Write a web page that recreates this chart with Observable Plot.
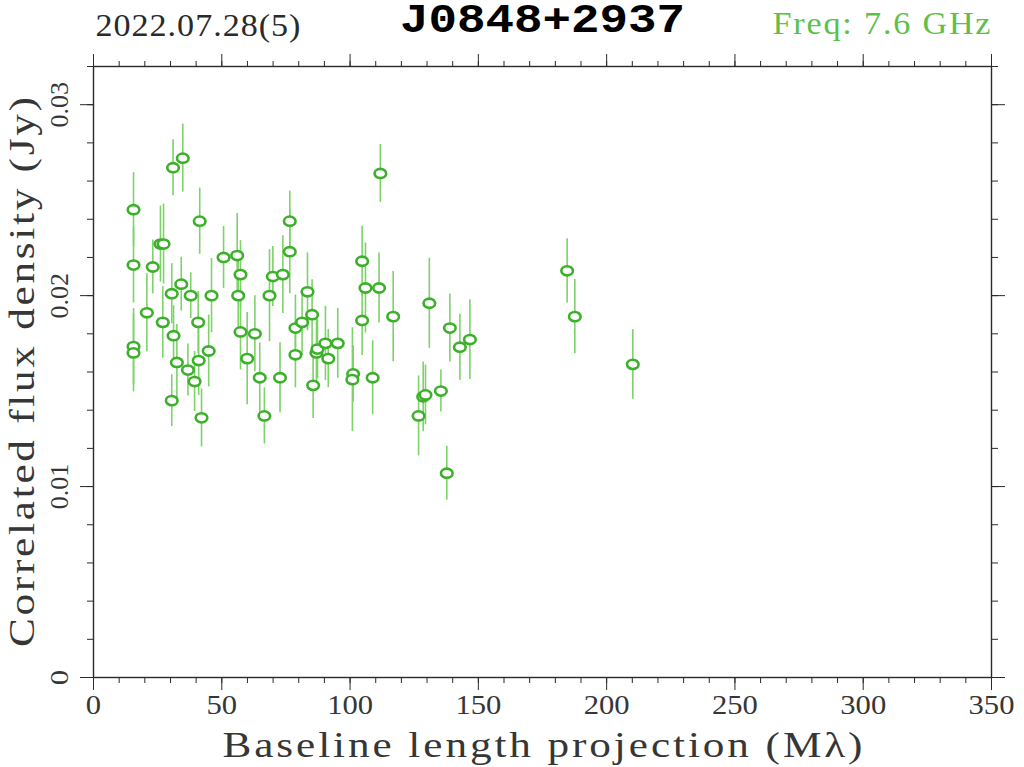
<!DOCTYPE html>
<html>
<head>
<meta charset="utf-8">
<script src="https://cdn.jsdelivr.net/npm/d3@7"></script>
<script src="https://cdn.jsdelivr.net/npm/@observablehq/plot@0.6"></script>
<style>
  html, body { margin: 0; padding: 0; background: #fff; }
  #chart { width: 1024px; height: 767px; }
</style>
</head>
<body>
<div id="chart"></div>
<script>
// Data
const baseline = [15.6, 15.6, 15.6, 15.6, 20.8, 23.1, 26.1, 27.3, 27.0, 31.0, 34.8, 30.5, 34.2, 31.2, 37.9, 41.4, 46.0, 32.5, 36.8, 39.4,
  40.8, 41.0, 44.9, 30.5, 42.1, 50.7, 56.0, 57.3, 56.4, 57.3, 59.9, 62.9, 64.8, 66.6, 68.6, 69.9, 73.8, 72.7, 76.5, 76.5,
  78.7, 78.7, 81.3, 83.4, 85.2, 85.6, 86.9, 87.3, 90.4, 91.5, 95.2, 101.2, 100.9, 104.7, 104.7, 106.0, 111.3, 111.8, 108.8, 116.8,
  126.7, 128.5, 129.4, 130.9, 135.4, 137.7, 138.9, 142.8, 146.7, 184.6, 187.6, 210.2];
const flux = [0.0245, 0.0216, 0.01733, 0.0170, 0.0191, 0.0215, 0.0227, 0.0227, 0.0186, 0.0267, 0.0272, 0.0201, 0.0206, 0.0179, 0.0200, 0.0239, 0.0200, 0.0165, 0.0161, 0.0155,
  0.0186, 0.0166, 0.0171, 0.0145, 0.0136, 0.0220, 0.0221, 0.0211, 0.0200, 0.0181, 0.0167, 0.0180, 0.0157, 0.0137, 0.0200, 0.0210, 0.0211, 0.0157, 0.0239, 0.0223,
  0.0169, 0.0183, 0.0186, 0.0202, 0.0190, 0.0153, 0.0170, 0.0172, 0.0175, 0.0167, 0.0175, 0.0159, 0.0156, 0.0218, 0.0187, 0.0204, 0.0204, 0.0264, 0.0157, 0.0189,
  0.0137, 0.0147, 0.0148, 0.0196, 0.0150, 0.0107, 0.0183, 0.0173, 0.0177, 0.0213, 0.0189, 0.0164];
const fluxErr = [0.00194, 0.00199, 0.00199, 0.00204, 0.00204, 0.00141, 0.00199, 0.00209, 0.00188, 0.00147, 0.00178, 0.00157, 0.00141, 0.00157, 0.0012, 0.00173, 0.00194, 0.00199, 0.00136, 0.00157,
  0.00162, 0.00183, 0.00188, 0.00136, 0.00152, 0.00162, 0.0022, 0.00178, 0.00188, 0.00199, 0.00241, 0.00199, 0.00183, 0.00147, 0.00241, 0.00157, 0.00204, 0.00183, 0.00157, 0.0022,
  0.00173, 0.00173, 0.00173, 0.00204, 0.00183, 0.00173, 0.00188, 0.00157, 0.00194, 0.00152, 0.00183, 0.00147, 0.00272, 0.00183, 0.00183, 0.00236, 0.00183, 0.00152, 0.00194, 0.00236,
  0.00209, 0.00183, 0.00157, 0.00236, 0.0011, 0.00141, 0.00178, 0.00173, 0.00209, 0.00168, 0.00194, 0.00183];

const xMajor = [0, 50, 100, 150, 200, 250, 300, 350];
const xMinor = d3.range(0, 36).map(i => i * 10);
const yMajor = [0, 0.01, 0.02, 0.03];
const yMajorLabels = ["0", "0.01", "0.02", "0.03"];
const yMinor = d3.range(0, 17).map(i => +(i * 0.002).toFixed(3));

const dateText = "2022.07.28(5)";
const sourceText = "J0848+2937";
const freqText = "Freq: 7.6 GHz";
const xLabel = "Baseline length projection (M\u03bb)";
const yLabel = "Correlated flux density (Jy)";

const data = baseline.map((b, i) => ({b, f: flux[i], e: fluxErr[i]}));

const k = 0.5523;
const ellipse = {
  draw(ctx) {
    const rx = 5.8, ry = 4.6;
    ctx.moveTo(rx, 0);
    ctx.bezierCurveTo(rx, ry * k, rx * k, ry, 0, ry);
    ctx.bezierCurveTo(-rx * k, ry, -rx, ry * k, -rx, 0);
    ctx.bezierCurveTo(-rx, -ry * k, -rx * k, -ry, 0, -ry);
    ctx.bezierCurveTo(rx * k, -ry, rx, -ry * k, rx, 0);
    ctx.closePath();
  }
};

const axisColor = "#2a2a2a";
const labelColor = "#363636";
const serif = "'Liberation Serif', serif";

const chart = Plot.plot({
  width: 1024,
  height: 767,
  marginLeft: 93,
  marginRight: 33,
  marginTop: 66,
  marginBottom: 90,
  style: {fontFamily: serif, fontSize: "27px", color: axisColor, background: "#fff"},
  x: {domain: [0, 350], label: null},
  y: {domain: [0, 0.032], label: null},
  marks: [
    Plot.ruleX(data, {x: "b", y1: d => d.f - d.e, y2: d => d.f + d.e, stroke: "#7dd26a", strokeWidth: 1.6}),
    Plot.dot(data, {x: "b", y: "f", symbol: ellipse, r: 5, stroke: "#3cb02a", strokeWidth: 2.6, fill: "#fff"}),
    Plot.frame({stroke: axisColor, strokeWidth: 1.4}),
    // bottom
    Plot.axisX({anchor: "bottom", ticks: xMajor, tickSize: 13, tickPadding: 4, tickFormat: d => String(d), label: null, fontSize: 27, fill: labelColor}),
    Plot.axisX({anchor: "bottom", ticks: xMinor, tickSize: 6, tickFormat: () => "", label: null}),
    // top
    Plot.axisX({anchor: "top", ticks: xMajor, tickSize: 13, tickFormat: () => "", label: null}),
    Plot.axisX({anchor: "top", ticks: xMinor, tickSize: 6, tickFormat: () => "", label: null}),
    // left
    Plot.axisY({anchor: "left", ticks: yMajor, tickSize: 13, tickPadding: 13, tickRotate: -90,
      tickFormat: d => yMajorLabels[yMajor.indexOf(d)], label: null, fontSize: 26, fill: labelColor}),
    Plot.axisY({anchor: "left", ticks: yMinor, tickSize: 6, tickFormat: () => "", label: null}),
    // right
    Plot.axisY({anchor: "right", ticks: yMajor, tickSize: 13, tickFormat: () => "", label: null}),
    Plot.axisY({anchor: "right", ticks: yMinor, tickSize: 6, tickFormat: () => "", label: null}),
    // axis titles
    Plot.text([xLabel], {frameAnchor: "bottom", dy: 68, lineAnchor: "middle", textAnchor: "middle", text: d => d, fontSize: 36, fill: labelColor}),
    Plot.text([yLabel], {frameAnchor: "left", dx: -71, rotate: -90, lineAnchor: "middle", textAnchor: "middle", text: d => d, fontSize: 36, fill: labelColor}),
    // header
    Plot.text([dateText], {frameAnchor: "top-left", dx: 2, dy: -40, lineAnchor: "middle", textAnchor: "start", text: d => d, fontSize: 31, fill: "#2a2a2a"}),
    Plot.text([sourceText], {frameAnchor: "top", dx: 0, dy: -47, lineAnchor: "middle", textAnchor: "middle", text: d => d, fontSize: 40, fontWeight: "bold",
      fontFamily: "'Liberation Mono', monospace", fill: "#000"}),
    Plot.text([freqText], {frameAnchor: "top-right", dx: -1, dy: -42, lineAnchor: "middle", textAnchor: "end", text: d => d, fontSize: 31, fill: "#5cc04a"})
  ]
});
document.getElementById("chart").appendChild(chart);

// widen the texts to the reference's wide plotter lettering:
// partly by stretching the glyphs (about their anchor, in local coordinates), partly by letter spacing
const widths = new Map([[xLabel, [640, 1.2, "middle"]], [yLabel, [550, 1.2, "middle"]], [dateText, [205, 1.1, "start"]],
  [sourceText, [285, 1.0, "middle"]], [freqText, [218, 1.1, "end"]]]);
d3.select(chart).selectAll("text").each(function() {
  const t = this.textContent;
  const sel = d3.select(this);
  if (widths.has(t)) {
    const [w, s, anchor] = widths.get(t);
    if (s === 1) {
      sel.attr("textLength", w).attr("lengthAdjust", "spacingAndGlyphs");
      return;
    }
    sel.attr("textLength", w / s).attr("lengthAdjust", "spacing");
    const bb = this.getBBox();
    const px = anchor === "start" ? bb.x : anchor === "end" ? bb.x + bb.width : bb.x + bb.width / 2;
    const tr = sel.attr("transform") || "";
    sel.attr("transform", `${tr} translate(${px},0) scale(${s},1) translate(${-px},0)`);
  } else if (/^\d+$/.test(t)) {
    sel.attr("textLength", 15.3 * t.length).attr("lengthAdjust", "spacingAndGlyphs");
  }
});
</script>
</body>
</html>
